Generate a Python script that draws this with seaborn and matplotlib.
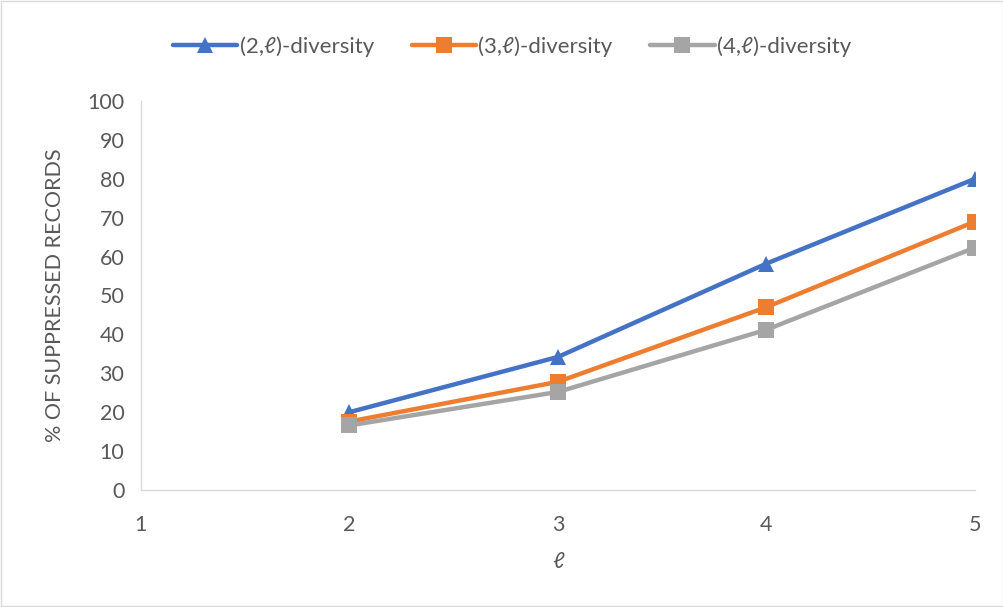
import numpy as np
import pandas as pd
import matplotlib
matplotlib.use("Agg")
import matplotlib.pyplot as plt
import seaborn as sns

# values
ell = [2, 3, 4, 5]
div2 = [20.0, 34.2, 58.2, 80.0]
div3 = [17.6, 27.8, 47.0, 69.0]
div4 = [16.6, 25.2, 41.2, 62.3]
series_names = ["(2,ℓ)-diversity", "(3,ℓ)-diversity", "(4,ℓ)-diversity"]
y_ticks = list(range(0, 101, 10))
x_ticks = [1, 2, 3, 4, 5]

sns.set_style("white")
plt.rcParams['font.family'] = ['Lato', 'DejaVu Sans']
txt = "#595959"

fig = plt.figure(figsize=(10.04, 6.07), dpi=100)
ax = fig.add_axes([0.1404, 0.1928, 0.8306, 0.6408])

colors = ["#4472C4", "#ED7D31", "#A5A5A5"]
markers = ["^", "s", "s"]
for vals, name, c, m in zip([div2, div3, div4], series_names, colors, markers):
    sns.lineplot(x=ell, y=vals, ax=ax, color=c, linewidth=3.2, marker=m,
                 markersize=11, markeredgewidth=0, label=name)

ax.set_xlim(1, 5)
ax.set_ylim(0, 100)
ax.set_xticks(x_ticks)
ax.set_yticks(y_ticks)
ax.tick_params(axis="both", length=0, labelsize=15.5, colors=txt, pad=12)
ax.tick_params(axis="x", pad=18)
for s in ["top", "right"]:
    ax.spines[s].set_visible(False)
for s in ["left", "bottom"]:
    ax.spines[s].set_color("#D9D9D9")
    ax.spines[s].set_linewidth(1)

ax.set_xlabel("ℓ", fontsize=16, color=txt, labelpad=12)
ax.set_ylabel("% OF SUPPRESSED RECORDS", fontsize=15.5, color=txt, labelpad=16)

ax.legend(loc="center", bbox_to_anchor=(0.51, 0.923), bbox_transform=fig.transFigure,
          ncol=3, frameon=False, fontsize=16, labelcolor=txt, handlelength=2.9,
          handletextpad=0.1, columnspacing=1.7)

fig.patches.append(plt.Rectangle((0.001, 0.001), 0.998, 0.998, transform=fig.transFigure,
                                 fill=False, edgecolor="#D9D9D9", linewidth=1))

fig.savefig("out.png", dpi=100)
